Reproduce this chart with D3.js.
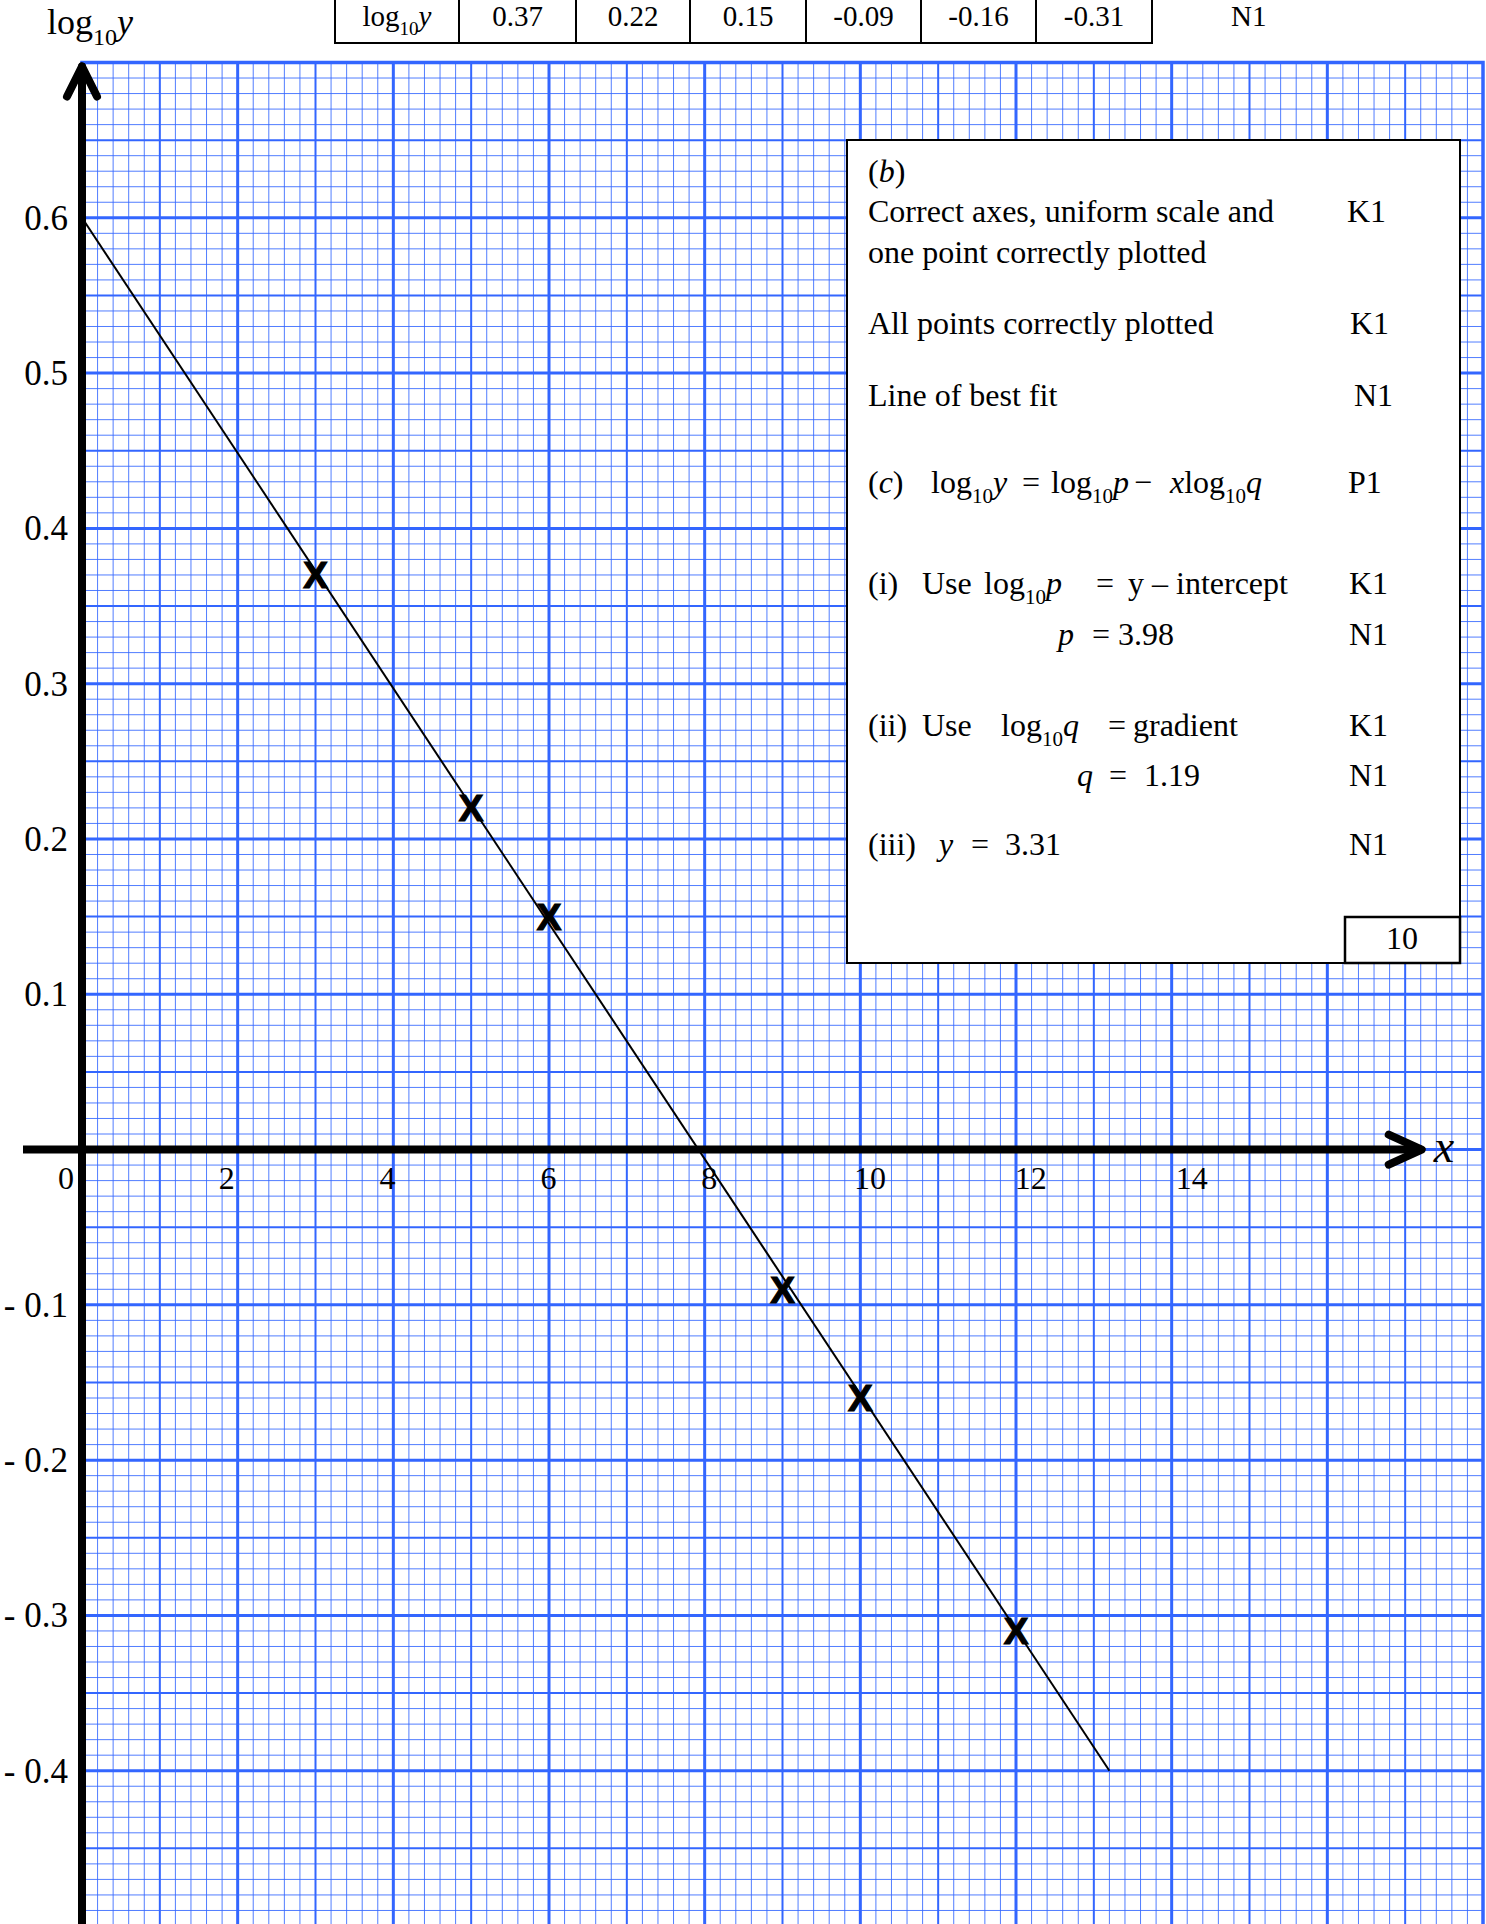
<!DOCTYPE html>
<html>
<head>
<meta charset="utf-8">
<script src="https://cdn.jsdelivr.net/npm/d3@7"></script>
<style>
	body { margin: 0; background: #fff; }
	svg { display: block; font-family: "Liberation Serif", "Times New Roman", serif; }
	text { white-space: pre; }
</style>
</head>
<body>
<script>
// plotted points (x, log10 y)
var xValues = [3, 5, 6, 9, 10, 12];
var logYValues = [0.37, 0.22, 0.15, -0.09, -0.16, -0.31];

// line of best fit, end points
var fitX = [0, 13.2];
var fitY = [0.6, -0.4];

var xTickLabels = [0, 2, 4, 6, 8, 10, 12, 14];
var yTickLabels = [0.6, 0.5, 0.4, 0.3, 0.2, 0.1, -0.1, -0.2, -0.3, -0.4];

var tableHeader = "log";
var tableMark = "N1";

var BLUE = "#3366ff";
var W = 1486, H = 1924;

var svg = d3.select("body").append("svg")
	.attr("width", W)
	.attr("height", H);

var x = d3.scaleLinear().domain([0, 18]).range([82, 1483]);
var y = d3.scaleLinear().domain([-0.5, 0.7]).range([1926, 62.5]);

/**
 * Graph paper: 1 small square = 0.2 on x, 0.01 on y.
 */
var grid = svg.append("g");
var xLines = d3.range(1, 90);
var yLines = d3.range(-50, 70);

function lineWidth(i) {
	if (i % 10 === 0) return 3;
	if (i % 5 === 0) return 2;
	return 1;
}

grid.selectAll("line.v").data(xLines).enter().append("line")
	.attr("x1", function(i) { return x(i * 0.2); })
	.attr("x2", function(i) { return x(i * 0.2); })
	.attr("y1", y(0.7))
	.attr("y2", y(-0.5))
	.attr("stroke", BLUE)
	.attr("stroke-opacity", function(i) { return i % 5 === 0 ? 1 : 0.85; })
	.attr("stroke-width", lineWidth);

grid.selectAll("line.h").data(yLines).enter().append("line")
	.attr("y1", function(i) { return y(i / 100); })
	.attr("y2", function(i) { return y(i / 100); })
	.attr("x1", x(0))
	.attr("x2", x(18))
	.attr("stroke", BLUE)
	.attr("stroke-opacity", function(i) { return i % 5 === 0 ? 1 : 0.85; })
	.attr("stroke-width", lineWidth);

grid.append("rect")
	.attr("x", x(0))
	.attr("y", y(0.7))
	.attr("width", x(18) - x(0))
	.attr("height", y(-0.5) - y(0.7))
	.attr("fill", "none")
	.attr("stroke", BLUE)
	.attr("stroke-width", 3.5);

// line of best fit
svg.append("path")
	.datum(d3.zip(fitX, fitY))
	.attr("d", d3.line().x(function(d) { return x(d[0]); }).y(function(d) { return y(d[1]); }))
	.attr("stroke", "#000")
	.attr("stroke-width", 2)
	.attr("fill", "none");

// crosses
svg.selectAll("text.pt").data(d3.zip(xValues, logYValues)).enter().append("text")
	.attr("x", function(d) { return x(d[0]); })
	.attr("y", function(d) { return y(d[1]); })
	.attr("dy", "0.36em")
	.attr("text-anchor", "middle")
	.attr("stroke", "#000")
	.attr("stroke-width", 1.2)
	.style("font-family", "'Liberation Sans', Arial, sans-serif")
	.style("font-weight", "bold")
	.style("font-size", "37px")
	.text("X");

// axes with arrows
var axes = svg.append("g")
	.attr("stroke", "#000")
	.attr("stroke-width", 8)
	.attr("stroke-linecap", "round")
	.attr("stroke-linejoin", "round")
	.attr("fill", "none");

axes.append("path")
	.attr("d", "M" + x(0) + "," + (H + 10) + " L" + x(0) + "," + (y(0.7) + 4));
axes.append("path")
	.attr("d", "M" + (x(0) - 15) + "," + (y(0.7) + 34) + " L" + x(0) + "," + (y(0.7) + 4) + " L" + (x(0) + 15) + "," + (y(0.7) + 34));
axes.append("path")
	.attr("stroke-linecap", "butt")
	.attr("d", "M23," + y(0) + " L" + (x(17.2) + 1) + "," + y(0));
axes.append("path")
	.attr("d", "M" + (x(17.2) - 32) + "," + (y(0) - 15) + " L" + (x(17.2) + 1) + "," + y(0) + " L" + (x(17.2) - 32) + "," + (y(0) + 15));

svg.append("text")
	.attr("x", x(17.2) + 13)
	.attr("y", y(0) + 12)
	.style("font-size", "46px")
	.style("font-style", "italic")
	.text("x");

// tick labels (the printed x labels drift a little wider than the grid)
var xLabel = d3.scaleLinear().domain([0, 14]).range([x(0) - 16, x(14) + 20]);

svg.selectAll("text.xl").data(xTickLabels).enter().append("text")
	.attr("x", function(d) { return xLabel(d); })
	.attr("y", y(0) + 39)
	.attr("text-anchor", "middle")
	.style("font-size", "32px")
	.text(function(d) { return d; });

svg.selectAll("text.yl").data(yTickLabels).enter().append("text")
	.attr("x", x(0) - 14)
	.attr("y", function(d) { return y(d) + 12; })
	.attr("text-anchor", "end")
	.style("font-size", "35px")
	.text(function(d) { return d < 0 ? "- " + d3.format(".1f")(-d) : d3.format(".1f")(d); });

/**
 * Writes a line made of parts; a part can be italic, a subscript,
 * or start at a fixed x.
 */
function richText(g, x0, base, parts, size) {
	var t = g.append("text")
		.attr("x", x0)
		.attr("y", base)
		.style("font-size", size + "px");
	var low = false;
	parts.forEach(function(p) {
		var s = t.append("tspan").text(p.t);
		if (p.x != null) s.attr("x", p.x);
		if (p.i) s.style("font-style", "italic");
		if (p.sub) {
			s.style("font-size", Math.round(size * 0.66) + "px");
			if (!low) { s.attr("dy", size * 0.3); low = true; }
		} else if (low) {
			s.attr("dy", -size * 0.3);
			low = false;
		}
	});
	return t;
}

// axis title
richText(svg, 47, 34, [{t: "log"}, {t: "10", sub: true}, {t: "y", i: true}], 36);

// top table row (its upper part is off the page)
var tableCols = [335, 459, 576, 690, 806, 921, 1036, 1152];
var table = svg.append("g");
table.selectAll("line.c").data(tableCols).enter().append("line")
	.attr("x1", function(d) { return d; })
	.attr("x2", function(d) { return d; })
	.attr("y1", -2)
	.attr("y2", 44)
	.attr("stroke", "#000")
	.attr("stroke-width", 2);
table.append("line")
	.attr("x1", tableCols[0] - 1)
	.attr("x2", tableCols[tableCols.length - 1] + 1)
	.attr("y1", 43)
	.attr("y2", 43)
	.attr("stroke", "#000")
	.attr("stroke-width", 2);

richText(table, (tableCols[0] + tableCols[1]) / 2, 26,
	[{t: tableHeader}, {t: "10", sub: true}, {t: "y", i: true}], 29)
	.attr("text-anchor", "middle");

table.selectAll("text.v").data(logYValues).enter().append("text")
	.attr("x", function(d, i) { return (tableCols[i + 1] + tableCols[i + 2]) / 2; })
	.attr("y", 26)
	.attr("text-anchor", "middle")
	.style("font-size", "29px")
	.text(function(d) { return d3.format(".2f")(d).replace("−", "-"); });

svg.append("text")
	.attr("x", 1231)
	.attr("y", 26)
	.style("font-size", "29px")
	.text(tableMark);

// marking scheme box
var box = svg.append("g");
box.append("rect")
	.attr("x", 847).attr("y", 140)
	.attr("width", 613).attr("height", 823)
	.attr("fill", "#fff")
	.attr("stroke", "#000")
	.attr("stroke-width", 2);
box.append("rect")
	.attr("x", 1345).attr("y", 917)
	.attr("width", 115).attr("height", 46)
	.attr("fill", "#fff")
	.attr("stroke", "#000")
	.attr("stroke-width", 2.5);

var FS = 32;
var L = 868;
richText(box, L, 182, [{t: "("}, {t: "b", i: true}, {t: ")"}], FS);
richText(box, L, 222, [{t: "Correct axes, uniform scale and"}, {t: "K1", x: 1347}], FS);
richText(box, L, 263, [{t: "one point correctly plotted"}], FS);
richText(box, L, 334, [{t: "All points correctly plotted"}, {t: "K1", x: 1350}], FS);
richText(box, L, 406, [{t: "Line of best fit"}, {t: "N1", x: 1354}], FS);
richText(box, L, 493, [
	{t: "("}, {t: "c", i: true}, {t: ")"},
	{t: "log", x: 931}, {t: "10", sub: true}, {t: "y", i: true},
	{t: "=", x: 1022},
	{t: "log", x: 1051}, {t: "10", sub: true}, {t: "p", i: true},
	{t: "\u2212", x: 1134},
	{t: "x", i: true, x: 1170}, {t: "log"}, {t: "10", sub: true}, {t: "q", i: true},
	{t: "P1", x: 1348}], FS);
richText(box, L, 594, [
	{t: "(i)"}, {t: "Use", x: 922},
	{t: "log", x: 984}, {t: "10", sub: true}, {t: "p", i: true},
	{t: "=", x: 1096}, {t: "y", x: 1128}, {t: "\u2013", x: 1152}, {t: "intercept", x: 1176},
	{t: "K1", x: 1349}], FS);
richText(box, 1058, 645, [{t: "p", i: true}, {t: "=", x: 1092}, {t: "3.98", x: 1118}, {t: "N1", x: 1349}], FS);
richText(box, L, 736, [
	{t: "(ii)"}, {t: "Use", x: 922},
	{t: "log", x: 1001}, {t: "10", sub: true}, {t: "q", i: true},
	{t: "=", x: 1108}, {t: "gradient", x: 1133},
	{t: "K1", x: 1349}], FS);
richText(box, 1077, 786, [{t: "q", i: true}, {t: "=", x: 1109}, {t: "1.19", x: 1144}, {t: "N1", x: 1349}], FS);
richText(box, L, 855, [{t: "(iii)"}, {t: "y", i: true, x: 939}, {t: "=", x: 971}, {t: "3.31", x: 1005}, {t: "N1", x: 1349}], FS);
richText(box, 1402, 949, [{t: "10"}], FS).attr("text-anchor", "middle");
</script>
</body>
</html>
